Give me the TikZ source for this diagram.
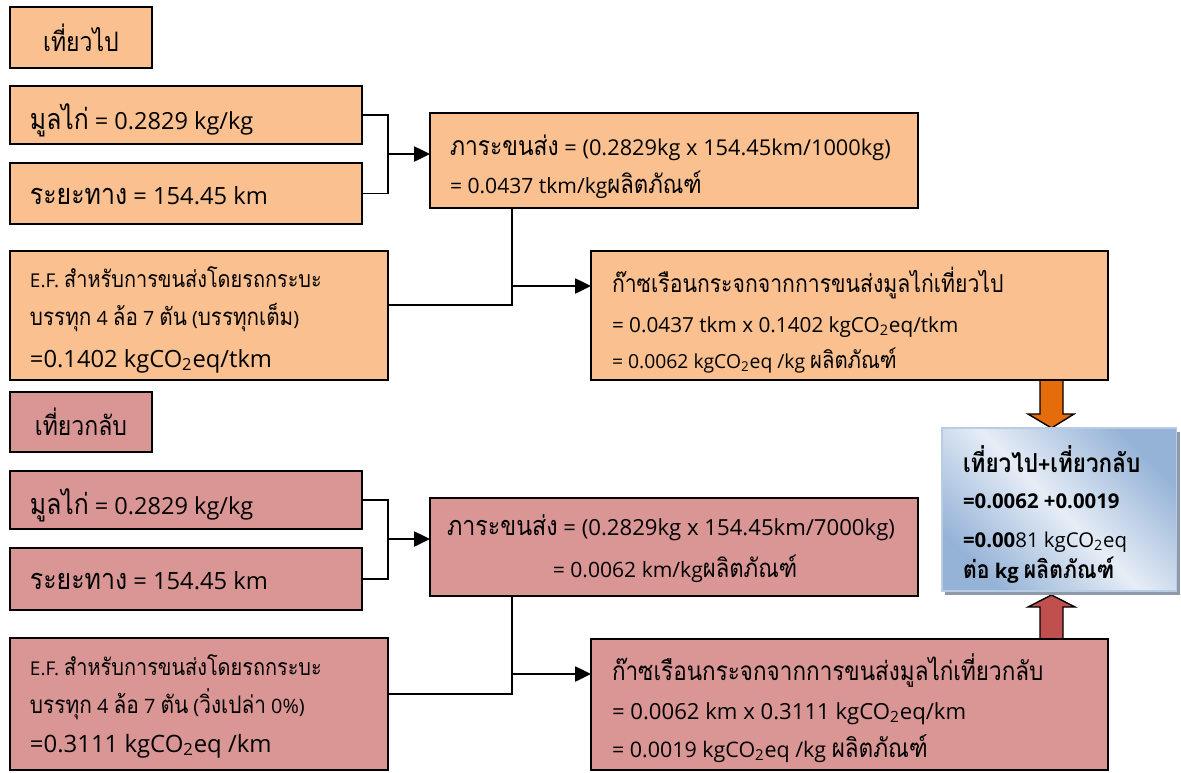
\documentclass[tikz,border=0pt]{standalone}
\usepackage{fontspec}
\setmainfont{Open Sans}
\newfontfamily\thaifont[Script=Thai,Scale=1.22,FakeStretch=0.86]{Loma}
\newcommand\tha[1]{{\thaifont #1}}
\usetikzlibrary{arrows.meta,shadows}

\definecolor{goFill}{HTML}{FAC08F}
\definecolor{backFill}{HTML}{D99694}
\definecolor{goArrow}{HTML}{E46C0A}
\definecolor{backArrow}{HTML}{C0504D}
\definecolor{sumDark}{HTML}{95B3D7}
\definecolor{sumLight}{HTML}{E6EDF6}
\definecolor{sumBorder}{HTML}{B8CCE4}
\definecolor{shadowGrey}{HTML}{8E9AAB}

\begin{document}
\begin{tikzpicture}[x=0.02cm,y=-0.02cm,
  box/.style={draw=black, line width=0.9pt, anchor=north west, inner sep=0pt, outer sep=0pt},
  go/.style={box, fill=goFill},
  back/.style={box, fill=backFill},
  txt/.style={anchor=base west, inner sep=0pt, outer sep=0pt, font=\fontsize{#1}{#1}\selectfont},
  ctxt/.style={txt=#1, anchor=base},
  btxt/.style={txt=#1, font=\fontsize{#1}{#1}\selectfont\bfseries},
  conn/.style={draw=black, line width=0.8pt},
  arr/.style={draw=black, line width=1.2pt, -{Triangle[length=9pt,width=8.5pt]}},
  blockarrow/.style={draw=black, line width=0.8pt, line join=miter},
  sumbox/.style={anchor=north west, inner sep=0pt, outer sep=0pt,
    draw=sumBorder, line width=0.6pt,
    top color=sumDark, bottom color=sumDark, middle color=sumLight, shading angle=-45,
    drop shadow={shadow xshift=1.8pt, shadow yshift=-2.3pt, fill=shadowGrey, opacity=1}},
]
\useasboundingbox (0,0) rectangle (1181,772);

% block arrows into the total box (drawn first, the boxes cover their ends)
\draw[blockarrow, fill=goArrow] (1040,378) -- (1063,378) -- (1063,414) -- (1074,414)
  -- (1051.5,428) -- (1028,414) -- (1040,414) -- cycle;
\draw[blockarrow, fill=backArrow] (1040,641) -- (1040,607) -- (1028,607) -- (1051.5,595)
  -- (1075,607) -- (1063,607) -- (1063,641) -- cycle;

% ---------------- outbound trip ----------------
\node[go, minimum width=2.84cm, minimum height=1.22cm, font=\fontsize{12.5}{12.5}\selectfont] (goLbl) at (10,7) {\tha{เที่ยวไป}};
\node[go, minimum width=7.04cm, minimum height=1.16cm] (goMan) at (10,86) {};
\node[go, minimum width=7.04cm, minimum height=1.22cm] (goDist) at (10,163) {};
\node[go, minimum width=9.76cm, minimum height=1.90cm] (goLoad) at (430,113) {};
\node[go, minimum width=7.56cm, minimum height=2.58cm] (goEF) at (10,251) {};
\node[go, minimum width=10.34cm, minimum height=2.58cm] (goGHG) at (591,251) {};

\node[txt=13.4] (goManT) at (30,129) {\tha{มูลไก่} = 0.2829 kg/kg};
\node[txt=13.5] (goDistT) at (30,204) {\tha{ระยะทาง} = 154.45 km};
\node[txt=12.4] (goLoadA) at (450,155) {\tha{ภาระขนส่ง} = (0.2829kg x 154.45km/1000kg)};
\node[txt=12] (goLoadB) at (450,193) {= 0.0437 tkm/kg\tha{ผลิตภัณฑ์}};
\node[txt=10.8] (goEFA) at (30,287) {E.F. \tha{สำหรับการขนส่งโดยรถกระบะ}};
\node[txt=11.2] (goEFB) at (30,325) {\tha{บรรทุก} 4 \tha{ล้อ} 7 \tha{ตัน} (\tha{บรรทุกเต็ม})};
\node[txt=13.5] (goEFC) at (30,367) {=0.1402 kgCO\textsubscript{2}eq/tkm};
\node[txt=11.5] (goGHGA) at (612,292) {\tha{ก๊าซเรือนกระจกจากการขนส่งมูลไก่เที่ยวไป}};
\node[txt=11.8] (goGHGB) at (612,332) {= 0.0437 tkm x 0.1402 kgCO\textsubscript{2}eq/tkm};
\node[txt=11] (goGHGC) at (612,368) {= 0.0062 kgCO\textsubscript{2}eq /kg \tha{ผลิตภัณฑ์}};

\coordinate (goJoin) at (388,154);
\draw[conn] (goMan.east) -| (goJoin) |- (goDist.east);
\draw[arr] (goJoin) -- (goJoin -| goLoad.west);
\coordinate (goTee) at (512,286);
\coordinate (goFoot) at (512,305);
\draw[conn] (goLoad.south -| goTee) -- (goFoot) -- (goFoot -| goEF.east);
\draw[arr] (goTee) -- (goTee -| goGHG.west);

% ---------------- return trip ----------------
\node[back, minimum width=2.84cm, minimum height=1.20cm, font=\fontsize{12.5}{12.5}\selectfont] (backLbl) at (10,392) {\tha{เที่ยวกลับ}};
\node[back, minimum width=7.04cm, minimum height=1.16cm] (backMan) at (10,471) {};
\node[back, minimum width=7.04cm, minimum height=1.24cm] (backDist) at (10,548) {};
\node[back, minimum width=9.76cm, minimum height=1.96cm] (backLoad) at (430,498) {};
\node[back, minimum width=7.56cm, minimum height=2.64cm] (backEF) at (10,638) {};
\node[back, minimum width=10.34cm, minimum height=2.62cm] (backGHG) at (591,639) {};

\node[txt=13.4] (backManT) at (30,514) {\tha{มูลไก่} = 0.2829 kg/kg};
\node[txt=13.5] (backDistT) at (30,589) {\tha{ระยะทาง} = 154.45 km};
\node[ctxt=12.6] (backLoadA) at (671,535) {\tha{ภาระขนส่ง} = (0.2829kg x 154.45km/7000kg)};
\node[ctxt=12] (backLoadB) at (675,577) {= 0.0062 km/kg\tha{ผลิตภัณฑ์}};
\node[txt=10.8] (backEFA) at (30,675) {E.F. \tha{สำหรับการขนส่งโดยรถกระบะ}};
\node[txt=11.3] (backEFB) at (30,713) {\tha{บรรทุก} 4 \tha{ล้อ} 7 \tha{ตัน} (\tha{วิ่งเปล่า} 0\%)};
\node[txt=13.6] (backEFC) at (30,752) {=0.3111 kgCO\textsubscript{2}eq /km};
\node[txt=12.2] (backGHGA) at (612,680) {\tha{ก๊าซเรือนกระจกจากการขนส่งมูลไก่เที่ยวกลับ}};
\node[txt=12.6] (backGHGB) at (612,719) {= 0.0062 km x 0.3111 kgCO\textsubscript{2}eq/km};
\node[txt=12.2] (backGHGC) at (612,757) {= 0.0019 kgCO\textsubscript{2}eq /kg \tha{ผลิตภัณฑ์}};

\coordinate (backJoin) at (388,539);
\draw[conn] (backMan.east) -| (backJoin) |- (backDist.east);
\draw[arr] (backJoin) -- (backJoin -| backLoad.west);
\coordinate (backTee) at (512,674);
\coordinate (backFoot) at (512,694);
\draw[conn] (backLoad.south -| backTee) -- (backFoot) -- (backFoot -| backEF.east);
\draw[arr] (backTee) -- (backTee -| backGHG.west);

% ---------------- total ----------------
\node[sumbox, minimum width=4.70cm, minimum height=3.26cm] (total) at (942,428) {};
\node[btxt=12.2] (totalA) at (963,472) {\tha{เที่ยวไป}+\tha{เที่ยวกลับ}};
\node[btxt=11.6] (totalB) at (963,508) {=0.0062 +0.0019};
\node[txt=11.6] (totalC) at (963,547) {\textbf{=0.00}81 kgCO\textsubscript{2}eq};
\node[btxt=11.5] (totalD) at (963,578) {\tha{ต่อ} kg \tha{ผลิตภัณฑ์}};
\end{tikzpicture}
\end{document}
